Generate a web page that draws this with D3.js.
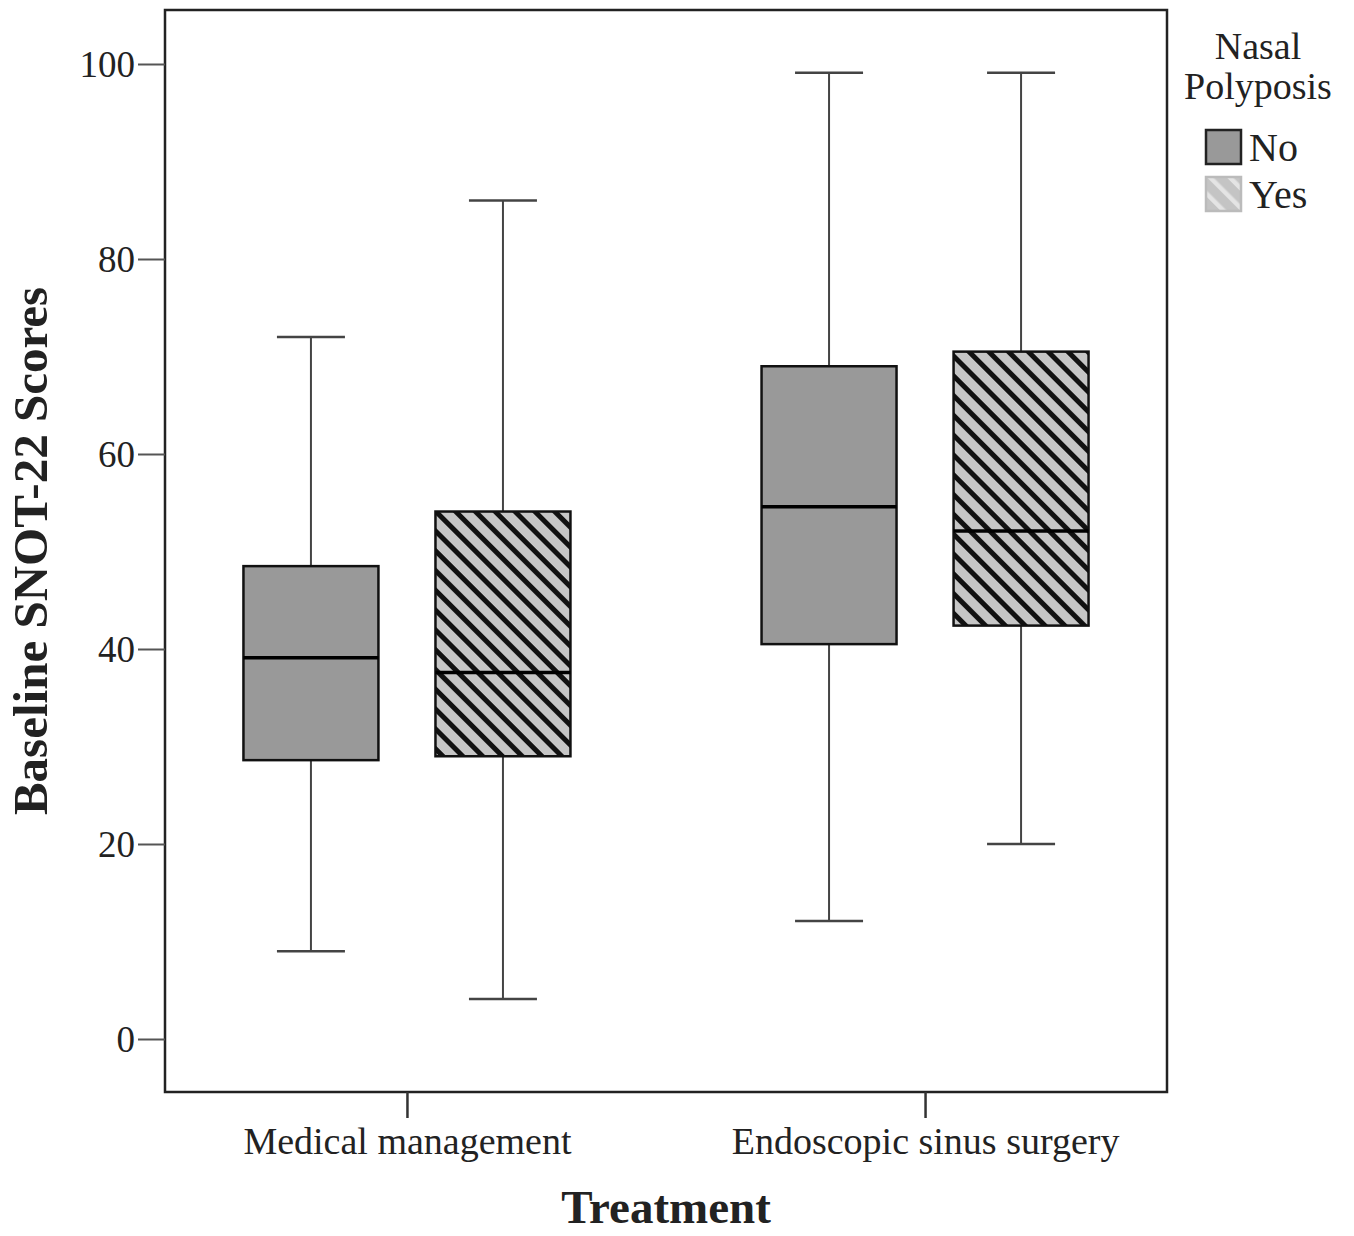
<!DOCTYPE html>
<html><head><meta charset="utf-8">
<script src="https://cdn.jsdelivr.net/npm/d3@7"></script>
<style>body{margin:0;background:#fff;} svg{display:block;}</style>
</head><body>
<svg id="c" width="1354" height="1236"></svg>
<script>
const categories = ["Medical management", "Endoscopic sinus surgery"];
const groups = ["No", "Yes"];
// [whiskerLow, Q1, median, Q3, whiskerHigh]
const medicalNo  = [9, 28.6, 39.1, 48.5, 72];
const medicalYes = [4.1, 29.0, 37.6, 54.1, 86];
const essNo      = [12.1, 40.5, 54.6, 69.0, 99.1];
const essYes     = [20, 42.4, 52.1, 70.5, 99.1];
const yTicks = [0, 20, 40, 60, 80, 100];

const boxes = [
  {cat: categories[0], grp: "No", v: medicalNo},
  {cat: categories[0], grp: "Yes", v: medicalYes},
  {cat: categories[1], grp: "No", v: essNo},
  {cat: categories[1], grp: "Yes", v: essYes}
];

const svg = d3.select("#c");
const L = 165, R = 1167, T = 10, B = 1092;
const serif = "'Liberation Serif','DejaVu Serif',serif";

const y = d3.scaleLinear().domain([0, 100]).range([1039, 64]);
const x = d3.scalePoint().domain(categories).range([L, R]).padding(0.467);
const xg = d3.scaleBand().domain(groups).range([-163.5, 163.5]).paddingInner(0.297).paddingOuter(0);

const defs = svg.append("defs");
const pat = defs.append("pattern").attr("id", "hatch").attr("patternUnits", "userSpaceOnUse")
  .attr("width", 14).attr("height", 14).attr("patternTransform", "rotate(-45)");
pat.append("rect").attr("width", 14).attr("height", 14).attr("fill", "#c6c6c6");
pat.append("rect").attr("x", 0).attr("width", 5).attr("height", 14).attr("fill", "#111");

const pat2 = defs.append("pattern").attr("id", "hatchL").attr("patternUnits", "userSpaceOnUse")
  .attr("width", 14).attr("height", 14).attr("patternTransform", "rotate(-45)");
pat2.append("rect").attr("width", 14).attr("height", 14).attr("fill", "#c4c4c4");
pat2.append("rect").attr("x", 0).attr("width", 4.5).attr("height", 14).attr("fill", "#e4e4e4");

// frame
svg.append("rect").attr("x", L).attr("y", T).attr("width", R - L).attr("height", B - T)
  .attr("fill", "none").attr("stroke", "#222").attr("stroke-width", 2.5);

// y axis
const yAxis = svg.append("g").attr("transform", `translate(${L},0)`)
  .call(d3.axisLeft(y).tickValues(yTicks).tickSize(27).tickPadding(3));
yAxis.select(".domain").remove();
yAxis.selectAll("line").attr("stroke", "#555").attr("stroke-width", 2);
yAxis.selectAll("text").attr("font-family", serif).attr("font-size", 37).attr("fill", "#222").attr("dy", "0.33em");

// x axis
const xAxis = svg.append("g").attr("transform", `translate(0,${B})`)
  .call(d3.axisBottom(x).tickSize(26).tickPadding(9));
xAxis.select(".domain").remove();
xAxis.selectAll("line").attr("stroke", "#333").attr("stroke-width", 2.5);
xAxis.selectAll("text").attr("font-family", serif).attr("font-size", 38).attr("fill", "#222");

// boxes
const bw = xg.bandwidth();
const capW = 68;
boxes.forEach(d => {
  const x0 = x(d.cat) + xg(d.grp);
  const cx = x0 + bw / 2;
  const [lo, q1, med, q3, hi] = d.v;
  const g = svg.append("g");
  g.append("line").attr("x1", cx).attr("x2", cx).attr("y1", y(hi)).attr("y2", y(q3)).attr("stroke", "#444").attr("stroke-width", 2);
  g.append("line").attr("x1", cx).attr("x2", cx).attr("y1", y(q1)).attr("y2", y(lo)).attr("stroke", "#444").attr("stroke-width", 2);
  g.append("line").attr("x1", cx - capW / 2).attr("x2", cx + capW / 2).attr("y1", y(hi)).attr("y2", y(hi)).attr("stroke", "#444").attr("stroke-width", 2.5);
  g.append("line").attr("x1", cx - capW / 2).attr("x2", cx + capW / 2).attr("y1", y(lo)).attr("y2", y(lo)).attr("stroke", "#444").attr("stroke-width", 2.5);
  g.append("rect").attr("x", x0).attr("y", y(q3)).attr("width", bw).attr("height", y(q1) - y(q3))
    .attr("fill", d.grp === "No" ? "#999999" : "url(#hatch)").attr("stroke", "#111").attr("stroke-width", 2.5);
  g.append("line").attr("x1", x0).attr("x2", x0 + bw).attr("y1", y(med)).attr("y2", y(med)).attr("stroke", "#000").attr("stroke-width", 3.5);
});

// axis titles
svg.append("text").attr("x", 666).attr("y", 1223).attr("text-anchor", "middle")
  .attr("font-family", serif).attr("font-weight", "bold").attr("font-size", 47).attr("fill", "#222").text("Treatment");
svg.append("text").attr("transform", "translate(47,551) rotate(-90)").attr("text-anchor", "middle")
  .attr("font-family", serif).attr("font-weight", "bold").attr("font-size", 49).attr("fill", "#222").text("Baseline SNOT-22 Scores");

// legend
const lg = svg.append("g");
lg.append("text").attr("x", 1258).attr("y", 59).attr("text-anchor", "middle").attr("font-family", serif).attr("font-size", 38).attr("fill", "#222").text("Nasal");
lg.append("text").attr("x", 1258).attr("y", 99).attr("text-anchor", "middle").attr("font-family", serif).attr("font-size", 38).attr("fill", "#222").text("Polyposis");
const legItems = [{k: "No", fill: "#999999", stroke: "#222"}, {k: "Yes", fill: "url(#hatchL)", stroke: "#bbb"}];
legItems.forEach((d, i) => {
  const yy = 130 + i * 47;
  lg.append("rect").attr("x", 1206).attr("y", yy).attr("width", 35).attr("height", 34)
    .attr("fill", d.fill).attr("stroke", d.stroke).attr("stroke-width", 2.5);
  lg.append("text").attr("x", 1249).attr("y", yy + 31).attr("font-family", serif).attr("font-size", 40).attr("fill", "#222").text(d.k);
});
</script>
</body></html>
